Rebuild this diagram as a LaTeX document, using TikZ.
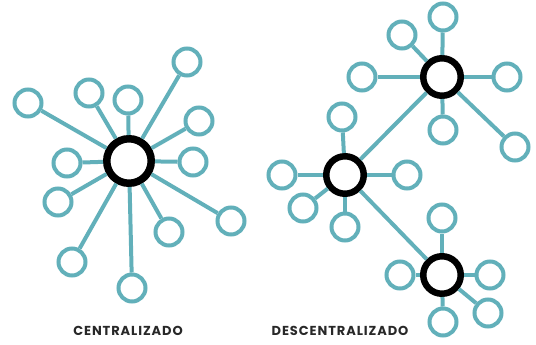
\documentclass[tikz,border=0pt]{standalone}
\usepackage{fontspec}
\newfontfamily\captionfont[LetterSpace=7]{Poppins}
\usepackage{xcolor}
\usetikzlibrary{positioning}
\definecolor{netteal}{RGB}{98,176,186}
\definecolor{labelgray}{RGB}{40,40,40}
\newcommand{\hubat}[3][hub]{\node[#1] (#2) at #3 {} ;}
\newcommand{\leafat}[2]{\node[leaf] (#1) at #2 {} ;}
\newcommand{\connect}[3][]{\draw[link,#1] (#2)--(#3) ;}

\begin{document}
\begin{tikzpicture}[x=1pt,y=-1pt,
    hub/.style={circle,draw=black,line width=6.5pt,fill=white,minimum size=37.5pt,inner sep=0pt},
    bighub/.style={hub,line width=7.5pt,minimum size=44.5pt},
    leaf/.style={circle,draw=netteal,line width=4pt,fill=white,minimum size=27pt,inner sep=0pt},
    link/.style={draw=netteal,line width=4pt},
    caption/.style={font=\captionfont\bfseries\fontsize{13}{15}\selectfont,text=labelgray,inner sep=0pt}]
        \useasboundingbox (0,0) rectangle (536,345);
        % centralizado
        \hubat[bighub]{H}{(129,161)}
        \leafat{C1}{(187,62)}
        \leafat{C2}{(28,103)}
        \leafat{C3}{(89,93)}
        \leafat{C4}{(128,100)}
        \leafat{C5}{(199,121)}
        \leafat{C6}{(67,163)}
        \leafat{C7}{(193,162)}
        \leafat{C8}{(58,202)}
        \leafat{C9}{(231,221)}
        \leafat{C10}{(169,232)}
        \leafat{C11}{(72,262)}
        \leafat{C12}{(132,288)}
        \foreach \n in {1,...,12}
            {\connect{H}{C\n}}
        % descentralizado
        \hubat{A}{(442,77)}
        \hubat{B}{(345,175)}
        \hubat{D}{(442,275)}
        \leafat{A1}{(402,35)}
        \leafat{A2}{(443,17)}
        \leafat{A3}{(362,77)}
        \leafat{A4}{(507,77)}
        \leafat{A5}{(443,130)}
        \leafat{A6}{(515,147)}
        \leafat{B1}{(342,117)}
        \leafat{B2}{(282,175)}
        \leafat{B3}{(407,175)}
        \leafat{B4}{(303,208)}
        \leafat{B5}{(345,227)}
        \leafat{D1}{(442,218)}
        \leafat{D2}{(400,275)}
        \leafat{D3}{(490,275)}
        \leafat{D4}{(443,322)}
        \leafat{D5}{(488,313)}
        \foreach \n in {1,...,6}
            {\connect{A}{A\n}}
        \foreach \n in {1,...,5}
            {\connect{B}{B\n}
             \connect{D}{D\n}}
        \connect{B}{A}
        \connect{B}{D}
        % labels
        \node[caption] (LC) at (128,331) {CENTRALIZADO};
        \node[caption] (LD) at (340,331) {DESCENTRALIZADO};
    \end{tikzpicture}
\end{document}
